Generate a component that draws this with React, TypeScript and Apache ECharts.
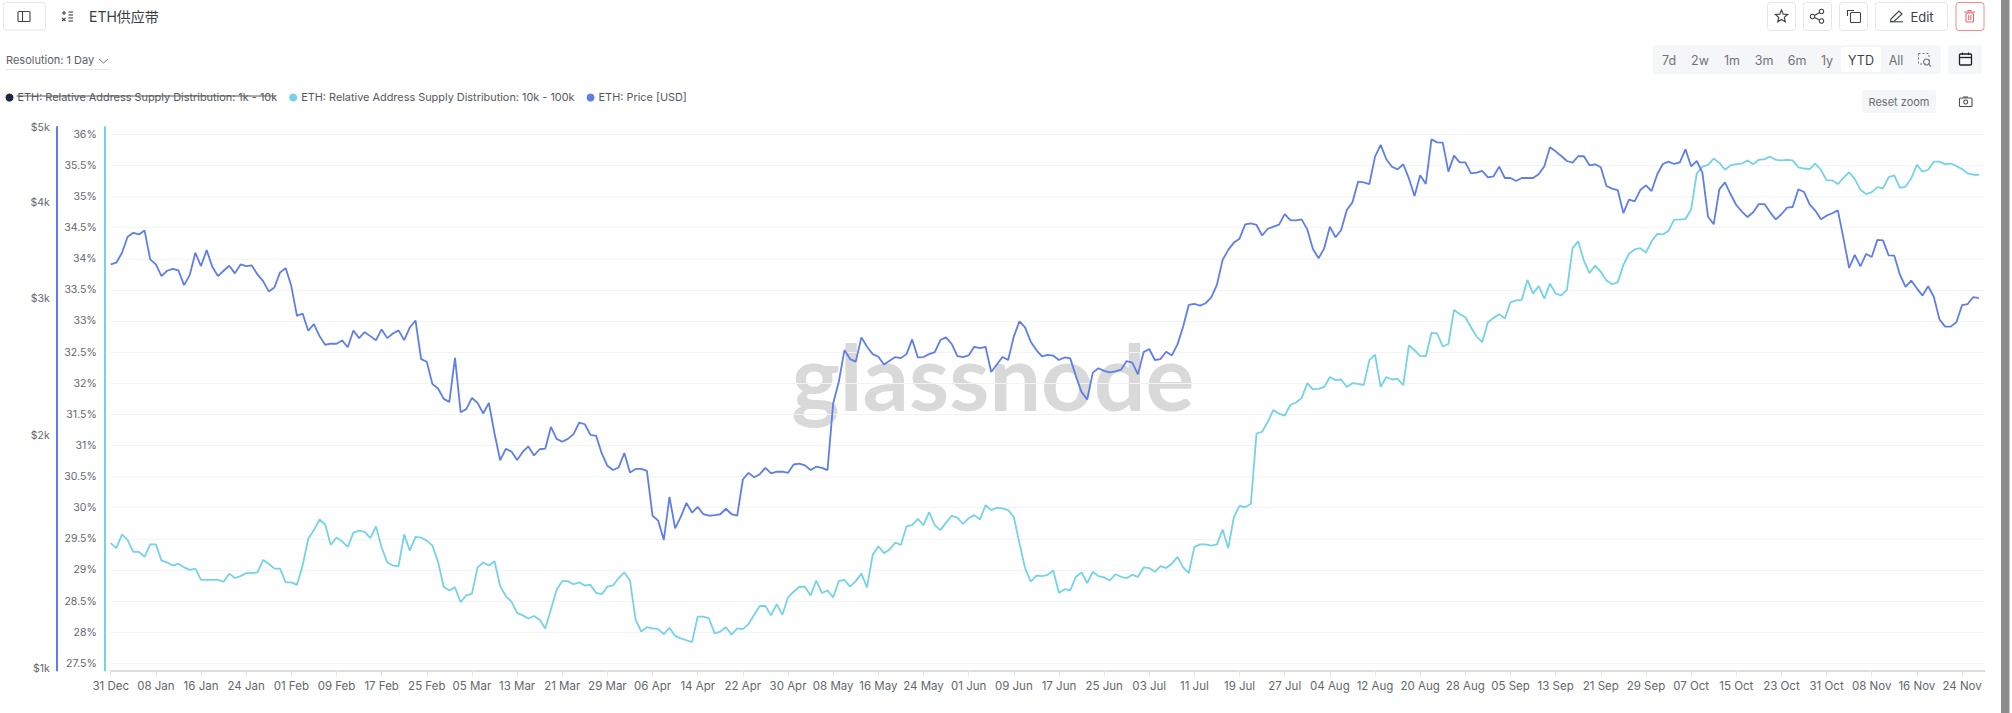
import React, { useEffect, useRef } from "react";
import * as echarts from "echarts";

const START_DATE = Date.UTC(2024, 11, 31);
const DAY_COUNT = 333;
const MONTHS = ["Jan", "Feb", "Mar", "Apr", "May", "Jun", "Jul", "Aug", "Sep", "Oct", "Nov", "Dec"];
const categories = Array.from({ length: DAY_COUNT }, (_, i) => {
  const d = new Date(START_DATE + i * 86400000);
  return `${String(d.getUTCDate()).padStart(2, "0")} ${MONTHS[d.getUTCMonth()]}`;
});

const supply10k100k = [
  29.43,29.35,29.57,29.48,29.29,29.29,29.21,29.41,29.41,29.15,
  29.12,29.07,29.10,29.04,29.00,29.02,28.84,28.84,28.84,28.84,
  28.81,28.94,28.87,28.90,28.95,28.95,28.96,29.16,29.10,29.02,
  29.02,28.80,28.80,28.76,29.07,29.50,29.64,29.81,29.73,29.40,
  29.52,29.46,29.37,29.60,29.63,29.61,29.51,29.70,29.36,29.12,
  29.07,29.06,29.57,29.31,29.53,29.52,29.47,29.39,29.13,28.73,
  28.67,28.72,28.48,28.59,28.62,29.04,29.12,29.07,29.14,28.74,
  28.58,28.49,28.31,28.27,28.22,28.26,28.20,28.06,28.37,28.68,
  28.82,28.82,28.77,28.80,28.75,28.76,28.63,28.61,28.73,28.75,
  28.87,28.96,28.83,28.20,28.01,28.08,28.06,28.05,27.97,28.07,
  27.94,27.90,27.87,27.84,28.25,28.25,28.22,27.98,28.01,28.08,
  27.96,28.06,28.05,28.13,28.28,28.42,28.42,28.27,28.45,28.28,
  28.56,28.65,28.73,28.73,28.59,28.83,28.63,28.67,28.56,28.82,
  28.84,28.73,28.82,28.94,28.72,29.24,29.38,29.27,29.33,29.44,
  29.40,29.70,29.72,29.82,29.72,29.93,29.72,29.64,29.76,29.87,
  29.84,29.74,29.83,29.88,29.81,30.04,29.96,30.00,29.99,29.96,
  29.85,29.43,29.03,28.81,28.91,28.90,28.92,28.99,28.63,28.69,
  28.67,28.89,28.96,28.79,28.97,28.90,28.88,28.83,28.93,28.89,
  28.87,28.92,28.89,29.04,29.03,28.97,29.06,29.03,29.10,29.21,
  29.04,28.95,29.37,29.41,29.41,29.39,29.41,29.65,29.35,29.85,
  30.03,30.01,30.06,31.19,31.22,31.38,31.57,31.51,31.48,31.65,
  31.69,31.76,32.00,31.90,31.91,31.94,32.10,32.05,32.06,31.94,
  32.00,31.99,31.97,32.37,32.46,31.94,32.10,32.06,32.07,31.97,
  32.61,32.53,32.44,32.43,32.81,32.80,32.59,32.63,33.18,33.11,
  33.06,32.90,32.75,32.66,32.98,33.05,33.11,33.04,33.30,33.33,
  33.34,33.66,33.44,33.56,33.36,33.60,33.44,33.41,33.50,34.17,
  34.28,33.97,33.77,33.89,33.79,33.65,33.59,33.62,33.90,34.08,
  34.15,34.17,34.10,34.28,34.40,34.39,34.45,34.63,34.63,34.64,
  34.79,35.37,35.48,35.51,35.61,35.54,35.43,35.50,35.52,35.53,
  35.58,35.52,35.59,35.60,35.64,35.59,35.58,35.59,35.58,35.47,
  35.45,35.44,35.53,35.43,35.26,35.26,35.20,35.30,35.39,35.28,
  35.11,35.04,35.07,35.15,35.13,35.31,35.34,35.14,35.16,35.29,
  35.51,35.40,35.43,35.56,35.56,35.52,35.53,35.49,35.44,35.37,35.35,35.35,
];

const priceUsd = [
  3322,3339,3439,3607,3650,3632,3676,3372,3322,3209,
  3260,3279,3263,3124,3218,3439,3306,3467,3299,3209,
  3260,3309,3235,3322,3306,3312,3225,3161,3066,3102,
  3244,3286,3115,2851,2871,2727,2782,2684,2616,2624,
  2624,2650,2597,2730,2668,2716,2684,2652,2738,2668,
  2705,2730,2652,2754,2812,2506,2487,2327,2297,2227,
  2207,2516,2140,2160,2233,2201,2132,2201,2009,1855,
  1919,1904,1857,1902,1933,1882,1917,1921,2049,1977,
  1960,1977,2005,2075,2065,2001,1995,1893,1825,1802,
  1816,1896,1789,1808,1808,1798,1573,1550,1464,1664,
  1515,1568,1634,1588,1615,1580,1573,1576,1580,1606,
  1580,1573,1752,1787,1764,1780,1814,1784,1793,1793,
  1787,1832,1837,1827,1802,1820,1814,1802,2197,2343,
  2575,2507,2488,2674,2600,2544,2524,2467,2495,2522,
  2514,2544,2658,2519,2522,2544,2559,2653,2674,2622,
  2529,2522,2534,2600,2590,2600,2412,2467,2522,2500,
  2680,2805,2755,2640,2575,2527,2539,2532,2500,2519,
  2512,2383,2274,2223,2408,2439,2420,2410,2417,2429,
  2492,2480,2396,2559,2583,2500,2507,2562,2534,2619,
  2760,2945,2954,2939,2960,3011,3128,3367,3469,3545,
  3587,3743,3754,3736,3621,3694,3717,3739,3859,3791,
  3787,3799,3687,3478,3383,3485,3717,3602,3680,3906,
  3996,4249,4240,4220,4578,4740,4542,4443,4408,4475,
  4292,4072,4331,4220,4820,4777,4773,4378,4592,4501,
  4501,4356,4365,4387,4305,4318,4443,4296,4296,4258,
  4296,4296,4296,4344,4448,4707,4651,4587,4519,4497,
  4583,4583,4462,4475,4435,4195,4162,4145,3871,4028,
  4008,4145,4203,4133,4344,4479,4510,4479,4501,4679,
  4448,4519,4365,3829,3743,4154,4241,4093,3965,3887,
  3825,3880,3976,3976,3880,3799,3857,3934,3941,4154,
  4121,3972,3899,3799,3841,3868,3902,3590,3287,3417,
  3303,3427,3396,3574,3568,3413,3410,3222,3107,3166,
  3094,3028,3113,3018,2821,2761,2761,2797,2943,2953,3015,3006,
];

const percentTicks = [27.5,28,28.5,29,29.5,30,30.5,31,31.5,32,32.5,33,33.5,34,34.5,35,35.5,36];
const priceTicks = [1000,2000,3000,4000,5000];
const rangeLabels = ["7d","2w","1m","3m","6m","1y","YTD","All"];
const SERIES_1K = "ETH: Relative Address Supply Distribution: 1k - 10k";
const SERIES_10K = "ETH: Relative Address Supply Distribution: 10k - 100k";
const SERIES_PRICE = "ETH: Price [USD]";

const FONT = "Inter, 'Noto Sans CJK SC', sans-serif";
const CYAN = "#74d3e6";
const BLUE = "#5f7ee9";
const ICON = "#3f4349";

const box = (x: number, y: number, w: number, h: number, stroke: string, fill = "#fff", r = 3) => ({
  type: "rect", shape: { x, y, width: w, height: h, r }, style: { fill, stroke, lineWidth: stroke === "none" ? 0 : 1 }, silent: true,
});
const line = (x1: number, y1: number, x2: number, y2: number, stroke = ICON, lineWidth = 1.1) => ({
  type: "line", shape: { x1, y1, x2, y2 }, style: { stroke, lineWidth }, silent: true,
});
const rectLine = (x: number, y: number, w: number, h: number, stroke = ICON, r = 1, lineWidth = 1.1, lineDash?: number[]) => ({
  type: "rect", shape: { x, y, width: w, height: h, r }, style: { fill: "none", stroke, lineWidth, lineDash }, silent: true,
});
const circle = (cx: number, cy: number, r: number, stroke = ICON, lineWidth = 1.1) => ({
  type: "circle", shape: { cx, cy, r }, style: { fill: "none", stroke, lineWidth }, silent: true,
});
const label = (x: number, y: number, text: string, fontSize: number, fill: string, textAlign = "center", fontWeight: any = 400) => ({
  type: "text", x, y, silent: true,
  style: { text, fontSize, fill, textAlign, textVerticalAlign: "middle", fontFamily: FONT, fontWeight },
});

function buildGraphics() {
  const starPts: number[][] = [];
  for (let k = 0; k < 10; k++) {
    const rad = k % 2 === 0 ? 6.4 : 2.9;
    const a = -Math.PI / 2 + (k * Math.PI) / 5;
    starPts.push([1781.5 + rad * Math.cos(a), 16.5 + rad * Math.sin(a)]);
  }
  return [
    // watermark
    { type: "text", x: 993, y: 375, z: 0, silent: true,
      style: { text: "glassnode", fontSize: 91.5, fontFamily: "Lato, sans-serif", fontWeight: 700, fill: "#d9d9d9", textAlign: "center", textVerticalAlign: "middle" } },
    // left header
    box(3.5, 2.5, 42, 27.5, "#e4e6e8"),
    rectLine(18, 11.5, 12, 10, "#3f4349"),
    line(22.5, 11.5, 22.5, 21.5),
    line(62, 13, 66, 13), line(64, 11, 64, 15), line(62, 18, 65.5, 21), line(65.5, 18, 62, 21),
    line(68.5, 12, 73, 12), line(68.5, 15, 73, 15), line(68.5, 18, 73, 18), line(68.5, 21, 73, 21),
    label(89, 16, "ETH供应带", 14, "#3a3d42", "left"),
    label(6, 60, "Resolution: 1 Day", 11, "#5d6167", "left"),
    { type: "polyline", shape: { points: [[99, 59], [103.5, 63], [108, 59]] }, style: { stroke: "#777", lineWidth: 1, fill: "none" }, silent: true },
    line(6, 69.5, 110, 69.5, "#e6e8ea", 1),
    // right buttons
    box(1767.5, 2.5, 28, 28, "#e4e6e8"),
    { type: "polygon", shape: { points: starPts }, style: { fill: "none", stroke: ICON, lineWidth: 1.2 }, silent: true },
    box(1803.5, 2.5, 28, 28, "#e4e6e8"),
    circle(1812.5, 16.5, 2.2), circle(1821.5, 11.5, 2.2), circle(1821.5, 21, 2.2),
    line(1814.5, 15.4, 1819.5, 12.6), line(1814.5, 17.6, 1819.5, 20),
    box(1839.5, 2.5, 28, 28, "#e4e6e8"),
    { type: "polyline", shape: { points: [[1847.5, 16], [1847.5, 10.5], [1854, 10.5]] }, style: { stroke: ICON, lineWidth: 1.1, fill: "none" }, silent: true },
    rectLine(1850.5, 12.5, 10, 10),
    box(1875.5, 2.5, 72, 28, "#e4e6e8"),
    { type: "polygon", shape: { points: [[1891, 19], [1899, 11], [1902, 14], [1894, 21.5], [1890.5, 21.5]] }, style: { fill: "none", stroke: ICON, lineWidth: 1.1 }, silent: true },
    line(1890, 21.8, 1903, 21.8),
    label(1922, 16.5, "Edit", 13, "#3f4349"),
    box(1956, 2.5, 28, 28, "#f58a8a"),
    rectLine(1966, 13, 7.5, 9, "#f06a6a", 1),
    line(1964.5, 12, 1975, 12, "#f06a6a"),
    line(1967.5, 10.5, 1971.5, 10.5, "#f06a6a"),
    line(1968.7, 15, 1968.7, 20, "#f06a6a"), line(1970.8, 15, 1970.8, 20, "#f06a6a"),
    // range selector
    box(1653, 45, 288, 29, "none", "#f5f6f8", 3),
    box(1841, 47, 40, 25, "none", "#ffffff", 3),
    ...rangeLabels.map((t, k) =>
      label([1669, 1700, 1732, 1764, 1797, 1827, 1861, 1896][k], 60, t, 12.5, t === "YTD" ? "#3f4349" : "#6f7379")),
    rectLine(1918.5, 53.5, 10.5, 10.5, "#777", 0, 1, [2, 2]),
    circle(1926.5, 62, 3, "#777"),
    line(1928.7, 64.2, 1931, 66.5, "#777"),
    box(1948, 45, 34, 29, "none", "#f5f6f8", 3),
    rectLine(1959.5, 54, 12, 11, "#222", 1, 1.3),
    line(1959.5, 57.5, 1971.5, 57.5, "#222", 1.3),
    line(1962.5, 52.5, 1962.5, 55, "#222", 1.2), line(1968.5, 52.5, 1968.5, 55, "#222", 1.2),
    // reset zoom
    box(1862, 90, 74, 23, "none", "#f5f6f8", 3),
    label(1899, 101.5, "Reset zoom", 11, "#6a6e74"),
    rectLine(1959.5, 98, 12.5, 8.5, "#4a4d52", 1),
    line(1963, 97, 1968, 97, "#4a4d52"),
    circle(1965.7, 102, 2, "#4a4d52"),
    // hidden legend item strike-through
    line(16.5, 96, 275, 96, "#55585e", 1),
    // browser scrollbar
    { type: "rect", shape: { x: 2001, y: 0, width: 8.5, height: 713 }, style: { fill: "#8c8c8c" }, silent: true },
  ];
}

const everyEighthDay = (index: number) => index % 8 === 0;

export default function App() {
  const ref = useRef<HTMLDivElement>(null);
  useEffect(() => {
    const chart = echarts.init(ref.current!, undefined, { renderer: "svg" });
    chart.setOption({
      animation: false,
      backgroundColor: "#ffffff",
      textStyle: { fontFamily: FONT },
      legend: {
        left: 0.5, top: 87, itemWidth: 8, itemHeight: 8, itemGap: 12, icon: "circle",
        textStyle: { color: "#55585e", fontSize: 10.9, fontFamily: FONT, padding: [0, 0, 0, -1] },
        data: [SERIES_1K, SERIES_10K, SERIES_PRICE],
      },
      grid: { left: 110.7, right: 27.4, top: 127, bottom: 42.5, containLabel: false },
      xAxis: {
        type: "category", data: categories, boundaryGap: false,
        axisLine: { lineStyle: { color: "#dddddd", width: 2 } },
        axisTick: { length: 6, interval: everyEighthDay, lineStyle: { color: "#e6e6e6", width: 1 } },
        axisLabel: { interval: everyEighthDay, margin: 10, color: "#63676d", fontSize: 11.5, fontFamily: FONT },
        splitLine: { show: false },
      },
      yAxis: [
        {
          type: "value", position: "left", offset: 6, min: 27.384, max: 36.117,
          axisLine: { show: true, onZero: false, lineStyle: { color: CYAN, width: 2 } },
          axisTick: { show: false, customValues: percentTicks },
          axisLabel: { customValues: percentTicks, margin: 8, color: "#63676d", fontSize: 10.5, fontFamily: FONT, formatter: (v: number) => `${v}%` },
          splitLine: { show: true, lineStyle: { color: "#f2f3f4", width: 1.2 } },
        },
        {
          type: "log", position: "left", offset: 54, min: 992.6, max: 5000, logBase: 10,
          axisLine: { show: true, onZero: false, lineStyle: { color: BLUE, width: 2 } },
          axisTick: { show: false, customValues: priceTicks },
          axisLabel: { customValues: priceTicks, margin: 7, color: "#63676d", fontSize: 10.5, fontFamily: FONT, formatter: (v: number) => `$${Math.round(v / 1000)}k` },
          splitLine: { show: false },
        },
      ],
      graphic: buildGraphics(),
      series: [
        { name: SERIES_1K, type: "line", yAxisIndex: 0, data: [], showSymbol: false, itemStyle: { color: "#1b2745" }, lineStyle: { color: "#1b2745" } },
        { name: SERIES_10K, type: "line", yAxisIndex: 0, data: supply10k100k, showSymbol: false, smooth: false, itemStyle: { color: CYAN }, lineStyle: { color: CYAN, width: 1.8 } },
        { name: SERIES_PRICE, type: "line", yAxisIndex: 1, data: priceUsd, showSymbol: false, smooth: false, itemStyle: { color: BLUE }, lineStyle: { color: BLUE, width: 1.8 } },
      ],
    });
    return () => chart.dispose();
  }, []);
  return <div ref={ref} style={{ position: "absolute", left: 0, top: 0, width: 2012, height: 713 }} />;
}
